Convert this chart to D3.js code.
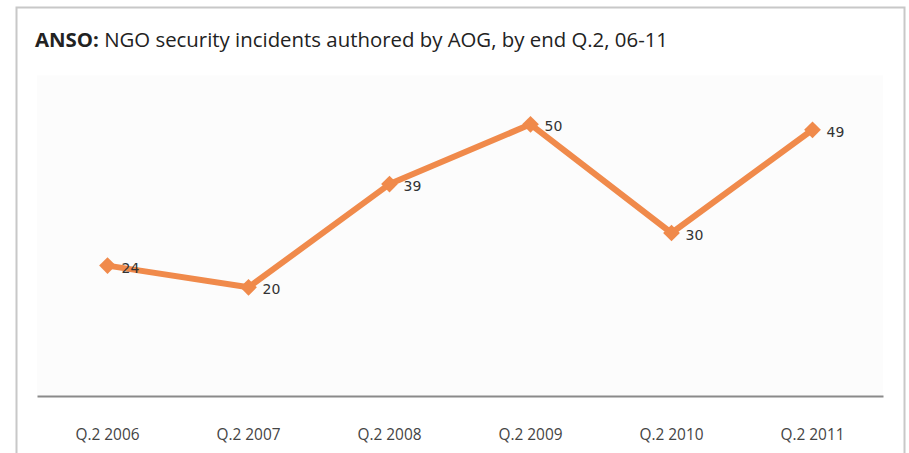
<!DOCTYPE html>
<html><head><meta charset="utf-8">
<script src="https://cdn.jsdelivr.net/npm/d3@7"></script>
<style>body{margin:0;background:#fff;}svg{display:block;}</style>
</head><body>
<svg id="c" width="909" height="453"></svg>
<script>
const categories = ["Q.2 2006","Q.2 2007","Q.2 2008","Q.2 2009","Q.2 2010","Q.2 2011"];
const values = [24, 20, 39, 50, 30, 49];
const titleBold = "ANSO:";
const titleRest = " NGO security incidents authored by AOG, by end Q.2, 06-11";

const svg = d3.select("#c");
const W = 909, H = 453;
const m = {left: 37, right: 26, top: 70, bottom: 57};

// outer frame
svg.append("rect").attr("x",16.5).attr("y",7.5).attr("width",888).attr("height",460)
  .attr("fill","#fff").attr("stroke","#c8c8c8").attr("stroke-width",2);

const x = d3.scaleBand().domain(categories).range([m.left, W - m.right]);
const y = d3.scaleLinear().domain([0, 60]).range([H - m.bottom, m.top]);

// faint plot area
svg.append("rect").attr("x", m.left).attr("y", y(59)).attr("width", W - m.right - m.left)
  .attr("height", y(0) - y(59)).attr("fill","#fcfcfc");

// title
const t = svg.append("text").attr("x",35).attr("y",47)
  .attr("font-family","'Open Sans', sans-serif").attr("font-size",19.5).attr("fill","#222")
  .attr("textLength", 633).attr("lengthAdjust","spacingAndGlyphs");
t.append("tspan").attr("font-weight","bold").text(titleBold);
t.append("tspan").text(titleRest);

// x axis
const xa = svg.append("g").attr("transform",`translate(0,${y(0)})`)
  .call(d3.axisBottom(x).tickSize(0).tickPadding(32));
xa.select(".domain").attr("stroke","#8a8a8a").attr("stroke-width",2);
xa.selectAll("text").attr("font-family","'Open Sans', sans-serif").attr("font-size",17)
  .attr("fill","#444").attr("textLength",64).attr("lengthAdjust","spacingAndGlyphs");

const cx = d => x(d) + x.bandwidth()/2;

// line
const line = d3.line().x((d,i)=>cx(categories[i])).y(d=>y(d));
svg.append("path").datum(values).attr("d", line).attr("fill","none")
  .attr("stroke","#F08A4B").attr("stroke-width",6).attr("stroke-linejoin","round");

// markers (square rotated 45deg)
svg.selectAll(".mk").data(values).enter().append("path")
  .attr("transform",(d,i)=>`translate(${cx(categories[i])},${y(d)}) rotate(45)`)
  .attr("d", d3.symbol().type(d3.symbolSquare).size(140))
  .attr("fill","#F08A4B");

// labels
svg.selectAll(".lb").data(values).enter().append("text")
  .attr("x",(d,i)=>cx(categories[i]) + 14).attr("y",d=>y(d)+7)
  .attr("font-family","'DejaVu Sans', sans-serif").attr("font-size",14).attr("fill","#333")
  .text(d=>d);
</script>
</body></html>
